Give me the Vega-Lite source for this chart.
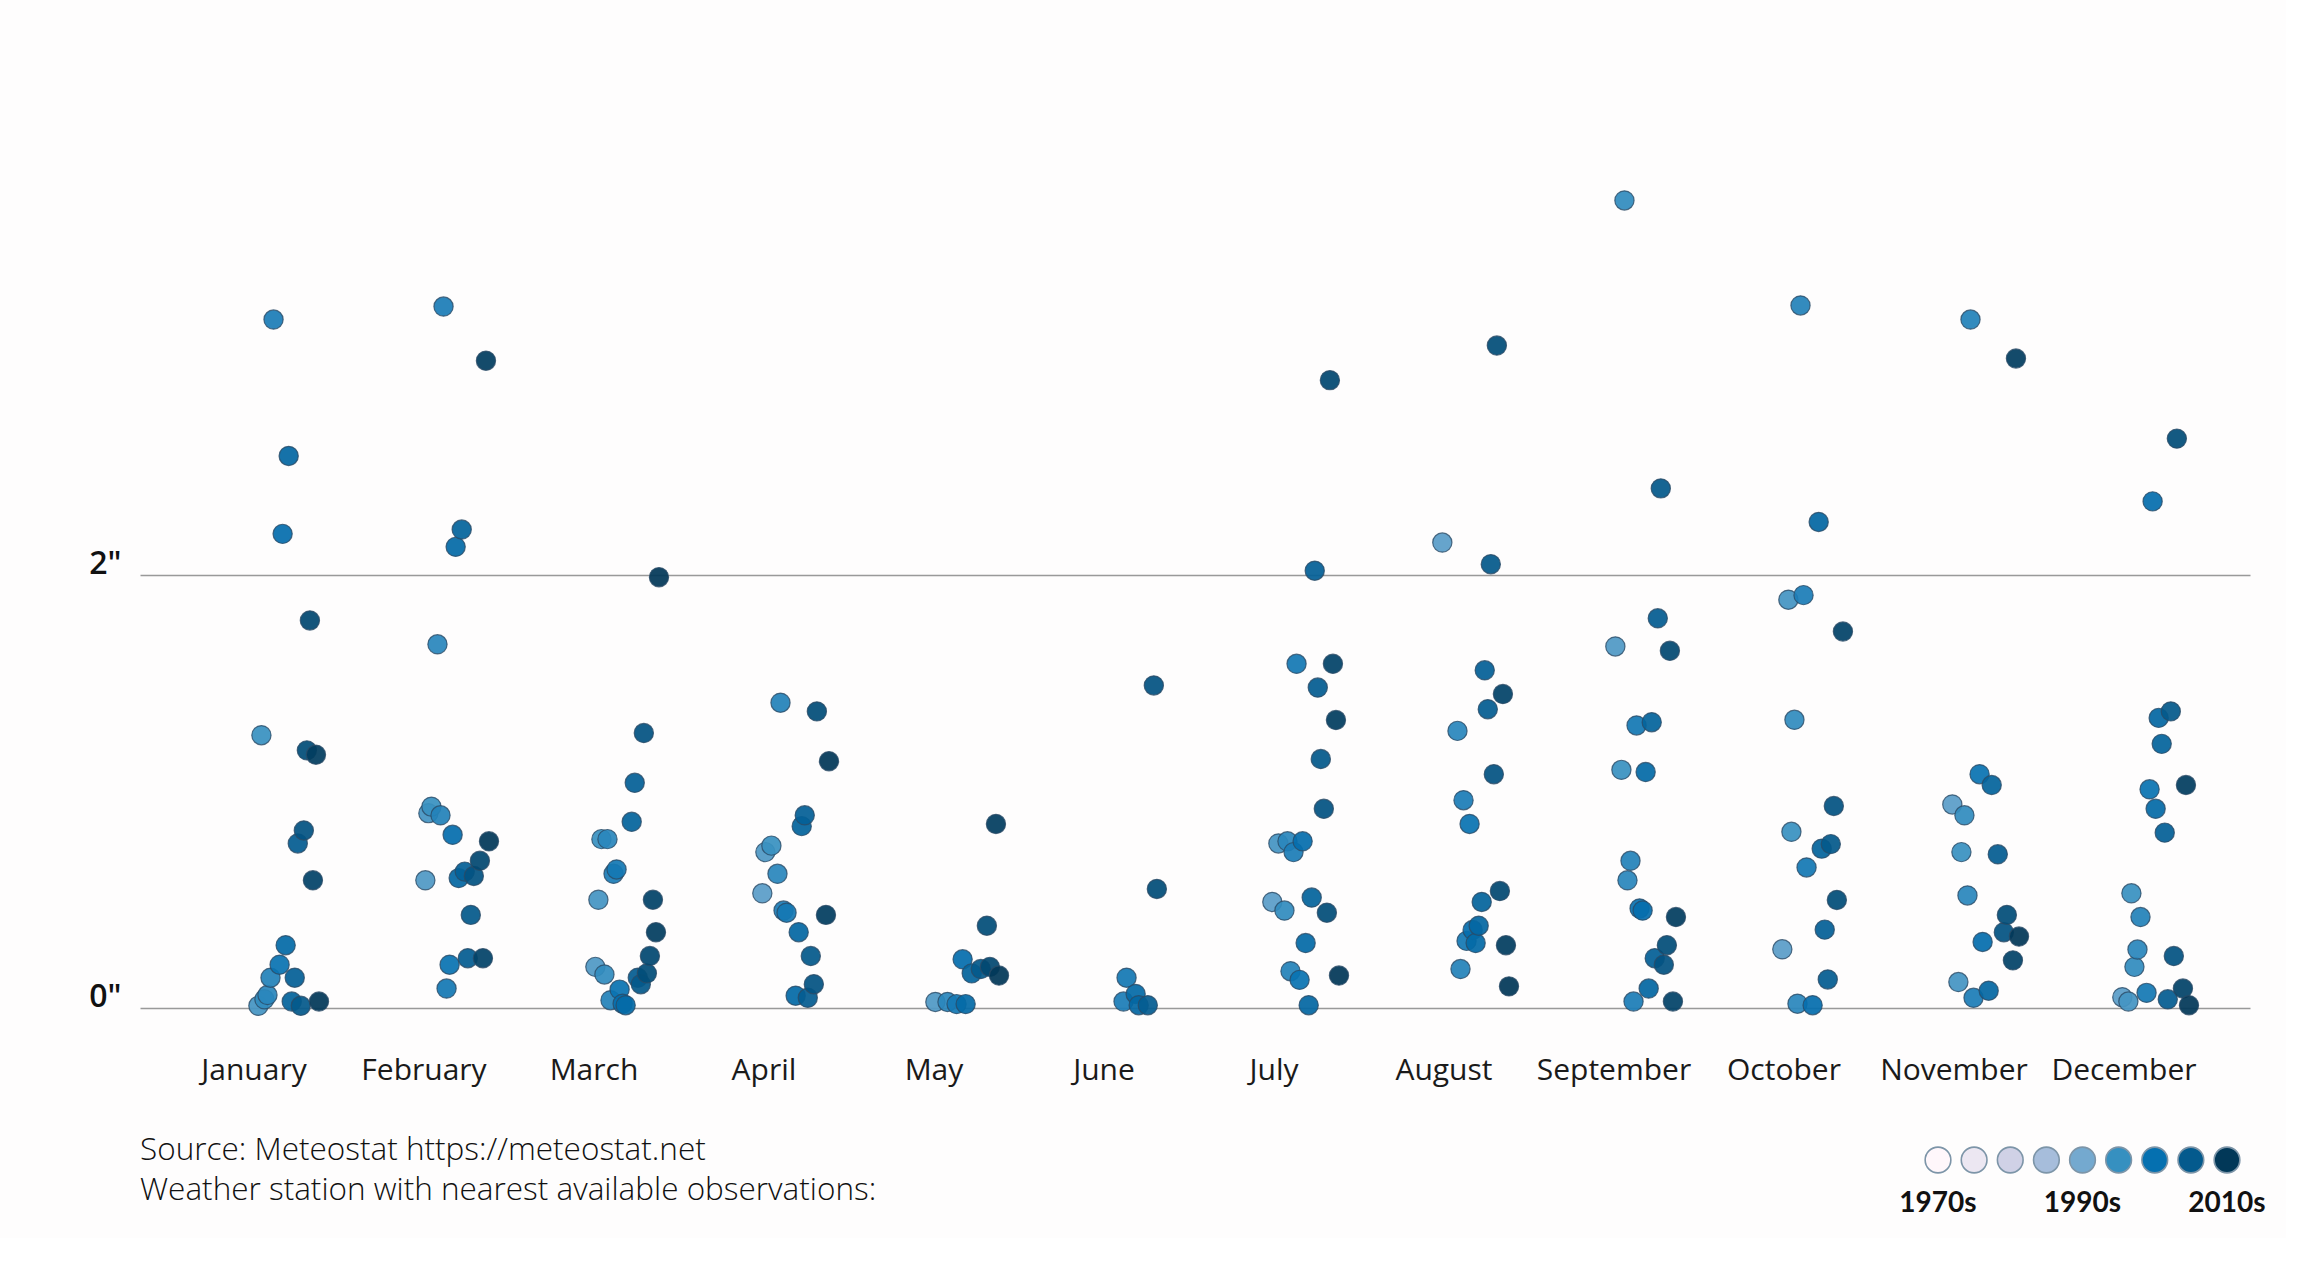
{
  "$schema": "https://vega.github.io/schema/vega-lite/v6.json",
  "background": "#fefdfd",
  "padding": {"left": 88, "top": 142, "right": 20, "bottom": 20},
  "bounds": "flush",
  "spacing": 132,
  "config": {"view": {"stroke": null}, "font": "Open Sans"},
  "vconcat": [
    {
      "width": 2110,
      "height": 866,
      "data": {"values": [
        {"month":"January","year":2005,"precip":3.18},{"month":"January","year":2010,"precip":2.55},{"month":"January","year":2008,"precip":2.19},{"month":"January","year":2017,"precip":1.79},{"month":"January","year":2001,"precip":1.26},{"month":"January","year":2016,"precip":1.19},{"month":"January","year":2019,"precip":1.17},{"month":"January","year":2015,"precip":0.82},{"month":"January","year":2013,"precip":0.76},{"month":"January","year":2018,"precip":0.59},{"month":"January","year":2009,"precip":0.29},{"month":"January","year":2007,"precip":0.2},{"month":"January","year":2004,"precip":0.14},{"month":"January","year":2012,"precip":0.14},{"month":"January","year":2003,"precip":0.06},{"month":"January","year":2002,"precip":0.04},{"month":"January","year":2000,"precip":0.01},{"month":"January","year":2011,"precip":0.03},{"month":"January","year":2014,"precip":0.01},{"month":"January","year":2020,"precip":0.03},
        {"month":"February","year":2005,"precip":3.24},{"month":"February","year":2019,"precip":2.99},{"month":"February","year":2011,"precip":2.21},{"month":"February","year":2009,"precip":2.13},{"month":"February","year":2003,"precip":1.68},{"month":"February","year":2000,"precip":0.9},{"month":"February","year":2001,"precip":0.93},{"month":"February","year":2004,"precip":0.89},{"month":"February","year":2008,"precip":0.8},{"month":"February","year":2020,"precip":0.77},{"month":"February","year":2017,"precip":0.68},{"month":"February","year":1999,"precip":0.59},{"month":"February","year":2010,"precip":0.6},{"month":"February","year":2012,"precip":0.63},{"month":"February","year":2015,"precip":0.61},{"month":"February","year":2014,"precip":0.43},{"month":"February","year":2007,"precip":0.2},{"month":"February","year":2013,"precip":0.23},{"month":"February","year":2018,"precip":0.23},{"month":"February","year":2006,"precip":0.09},
        {"month":"March","year":2020,"precip":1.99},{"month":"March","year":2015,"precip":1.27},{"month":"March","year":2012,"precip":1.04},{"month":"March","year":2011,"precip":0.86},{"month":"March","year":2001,"precip":0.78},{"month":"March","year":2003,"precip":0.78},{"month":"March","year":2005,"precip":0.62},{"month":"March","year":2006,"precip":0.64},{"month":"March","year":2000,"precip":0.5},{"month":"March","year":2018,"precip":0.5},{"month":"March","year":2019,"precip":0.35},{"month":"March","year":2017,"precip":0.24},{"month":"March","year":1999,"precip":0.19},{"month":"March","year":2002,"precip":0.155},{"month":"March","year":2013,"precip":0.14},{"month":"March","year":2016,"precip":0.16},{"month":"March","year":2014,"precip":0.11},{"month":"March","year":2007,"precip":0.085},{"month":"March","year":2004,"precip":0.036},{"month":"March","year":2008,"precip":0.02},{"month":"March","year":2009,"precip":0.013},
        {"month":"April","year":2004,"precip":1.41},{"month":"April","year":2016,"precip":1.37},{"month":"April","year":2020,"precip":1.14},{"month":"April","year":2012,"precip":0.89},{"month":"April","year":2011,"precip":0.84},{"month":"April","year":1999,"precip":0.72},{"month":"April","year":2001,"precip":0.75},{"month":"April","year":2003,"precip":0.62},{"month":"April","year":1998,"precip":0.53},{"month":"April","year":2005,"precip":0.45},{"month":"April","year":2006,"precip":0.44},{"month":"April","year":2019,"precip":0.43},{"month":"April","year":2010,"precip":0.35},{"month":"April","year":2014,"precip":0.24},{"month":"April","year":2015,"precip":0.11},{"month":"April","year":2009,"precip":0.057},{"month":"April","year":2013,"precip":0.047},
        {"month":"May","year":2019,"precip":0.85},{"month":"May","year":2016,"precip":0.38},{"month":"May","year":2008,"precip":0.225},{"month":"May","year":2011,"precip":0.16},{"month":"May","year":2014,"precip":0.18},{"month":"May","year":2017,"precip":0.19},{"month":"May","year":2020,"precip":0.15},{"month":"May","year":1999,"precip":0.028},{"month":"May","year":2003,"precip":0.028},{"month":"May","year":2006,"precip":0.018},{"month":"May","year":2009,"precip":0.018},
        {"month":"June","year":2015,"precip":1.49},{"month":"June","year":2016,"precip":0.55},{"month":"June","year":2006,"precip":0.14},{"month":"June","year":2005,"precip":0.03},{"month":"June","year":2009,"precip":0.065},{"month":"June","year":2010,"precip":0.013},{"month":"June","year":2013,"precip":0.013},
        {"month":"July","year":2017,"precip":2.9},{"month":"July","year":2012,"precip":2.02},{"month":"July","year":2006,"precip":1.59},{"month":"July","year":2018,"precip":1.59},{"month":"July","year":2013,"precip":1.48},{"month":"July","year":2019,"precip":1.33},{"month":"July","year":2014,"precip":1.15},{"month":"July","year":2015,"precip":0.92},{"month":"July","year":2000,"precip":0.76},{"month":"July","year":2003,"precip":0.77},{"month":"July","year":2005,"precip":0.72},{"month":"July","year":2008,"precip":0.77},{"month":"July","year":1998,"precip":0.49},{"month":"July","year":2002,"precip":0.45},{"month":"July","year":2011,"precip":0.51},{"month":"July","year":2016,"precip":0.44},{"month":"July","year":2009,"precip":0.3},{"month":"July","year":2004,"precip":0.17},{"month":"July","year":2007,"precip":0.13},{"month":"July","year":2020,"precip":0.15},{"month":"July","year":2010,"precip":0.013},
        {"month":"August","year":2016,"precip":3.06},{"month":"August","year":1998,"precip":2.15},{"month":"August","year":2014,"precip":2.05},{"month":"August","year":2012,"precip":1.56},{"month":"August","year":2018,"precip":1.45},{"month":"August","year":2013,"precip":1.38},{"month":"August","year":2003,"precip":1.28},{"month":"August","year":2015,"precip":1.08},{"month":"August","year":2005,"precip":0.96},{"month":"August","year":2007,"precip":0.85},{"month":"August","year":2017,"precip":0.54},{"month":"August","year":2011,"precip":0.49},{"month":"August","year":2010,"precip":0.38},{"month":"August","year":2008,"precip":0.36},{"month":"August","year":2006,"precip":0.31},{"month":"August","year":2009,"precip":0.3},{"month":"August","year":2019,"precip":0.29},{"month":"August","year":2004,"precip":0.18},{"month":"August","year":2020,"precip":0.1},
        {"month":"September","year":2002,"precip":3.73},{"month":"September","year":2014,"precip":2.4},{"month":"September","year":2013,"precip":1.8},{"month":"September","year":1999,"precip":1.67},{"month":"September","year":2017,"precip":1.65},{"month":"September","year":2006,"precip":1.305},{"month":"September","year":2011,"precip":1.32},{"month":"September","year":2001,"precip":1.1},{"month":"September","year":2009,"precip":1.09},{"month":"September","year":2004,"precip":0.68},{"month":"September","year":2003,"precip":0.59},{"month":"September","year":2007,"precip":0.46},{"month":"September","year":2008,"precip":0.45},{"month":"September","year":2019,"precip":0.42},{"month":"September","year":2016,"precip":0.29},{"month":"September","year":2012,"precip":0.23},{"month":"September","year":2015,"precip":0.2},{"month":"September","year":2010,"precip":0.09},{"month":"September","year":2005,"precip":0.03},{"month":"September","year":2018,"precip":0.03},
        {"month":"October","year":2004,"precip":3.245},{"month":"October","year":2010,"precip":2.245},{"month":"October","year":2000,"precip":1.886},{"month":"October","year":2005,"precip":1.907},{"month":"October","year":2018,"precip":1.739},{"month":"October","year":2002,"precip":1.331},{"month":"October","year":2015,"precip":0.933},{"month":"October","year":2001,"precip":0.814},{"month":"October","year":2011,"precip":0.736},{"month":"October","year":2014,"precip":0.757},{"month":"October","year":2006,"precip":0.649},{"month":"October","year":2016,"precip":0.499},{"month":"October","year":2012,"precip":0.362},{"month":"October","year":1998,"precip":0.271},{"month":"October","year":2013,"precip":0.132},{"month":"October","year":2003,"precip":0.02},{"month":"October","year":2008,"precip":0.013},
        {"month":"November","year":2004,"precip":3.18},{"month":"November","year":2019,"precip":3.0},{"month":"November","year":2007,"precip":1.08},{"month":"November","year":2011,"precip":1.03},{"month":"November","year":1998,"precip":0.94},{"month":"November","year":2002,"precip":0.89},{"month":"November","year":2001,"precip":0.72},{"month":"November","year":2013,"precip":0.71},{"month":"November","year":2003,"precip":0.52},{"month":"November","year":2016,"precip":0.43},{"month":"November","year":2015,"precip":0.35},{"month":"November","year":2020,"precip":0.33},{"month":"November","year":2008,"precip":0.305},{"month":"November","year":2018,"precip":0.22},{"month":"November","year":2000,"precip":0.12},{"month":"November","year":2010,"precip":0.08},{"month":"November","year":2005,"precip":0.047},
        {"month":"December","year":2008,"precip":2.34},{"month":"December","year":2016,"precip":2.63},{"month":"December","year":2010,"precip":1.34},{"month":"December","year":2014,"precip":1.37},{"month":"December","year":2011,"precip":1.22},{"month":"December","year":2007,"precip":1.01},{"month":"December","year":2019,"precip":1.03},{"month":"December","year":2009,"precip":0.92},{"month":"December","year":2012,"precip":0.81},{"month":"December","year":2001,"precip":0.53},{"month":"December","year":2004,"precip":0.42},{"month":"December","year":2003,"precip":0.27},{"month":"December","year":2002,"precip":0.19},{"month":"December","year":2015,"precip":0.24},{"month":"December","year":1998,"precip":0.05},{"month":"December","year":2000,"precip":0.03},{"month":"December","year":2006,"precip":0.07},{"month":"December","year":2013,"precip":0.04},{"month":"December","year":2018,"precip":0.09},{"month":"December","year":2020,"precip":0.013}
      ]},
      "mark": {"type": "circle", "size": 370, "fillOpacity": 0.93, "stroke": "#2b4b66", "strokeWidth": 1.2, "strokeOpacity": 0.8},
      "encoding": {
        "x": {
          "field": "month", "type": "nominal",
          "sort": ["January","February","March","April","May","June","July","August","September","October","November","December"],
          "scale": {"paddingInner": 0, "paddingOuter": 0.2059, "align": 0.414},
          "axis": {"title": null, "domain": false, "ticks": false, "labelPadding": 47, "labelFontSize": 30, "labelFont": "Open Sans", "labelColor": "#1a1a1a", "labelAngle": 0}
        },
        "xOffset": {"field": "year", "type": "quantitative", "scale": {"domain": [1970, 2020], "range": [-1.5, 150]}},
        "y": {
          "field": "precip", "type": "quantitative",
          "scale": {"domain": [0, 4]},
          "axis": {"values": [0, 2], "title": null, "domain": false, "ticks": false, "grid": true, "gridColor": "#999999", "gridWidth": 1.3, "labelExpr": "datum.value + '\"'", "labelBaseline": "alphabetic", "labelOffset": -2, "labelPadding": 19, "labelFontSize": 32, "labelFont": "Open Sans", "labelFontWeight": 600, "labelColor": "#111111"}
        },
        "color": {"field": "year", "type": "quantitative", "scale": {"domain": [1970, 1976.25, 1982.5, 1988.75, 1995, 2001.25, 2007.5, 2013.75, 2020], "range": ["#fff7fb", "#ece7f2", "#d0d1e6", "#a6bddb", "#74a9cf", "#3690c0", "#0570b0", "#045a8d", "#023858"]}, "legend": null},
        "order": {"field": "year", "type": "quantitative"}
      }
    },
    {
      "width": 2110,
      "height": 40,
      "resolve": {"scale": {"x": "independent"}},
      "layer": [
        {
          "data": {"values": [{"text": "Source: Meteostat https://meteostat.net\nWeather station with nearest available observations:"}]},
          "mark": {"type": "text", "align": "left", "baseline": "alphabetic", "lineBreak": "\n", "lineHeight": 40, "fontSize": 31.5, "font": "Open Sans", "fontWeight": 300, "color": "#111111"},
          "encoding": {
            "x": {"datum": 0, "type": "quantitative", "scale": {"domain": [0, 1]}, "axis": null},
            "text": {"field": "text"}
          }
        },
        {
          "data": {"values": [
            {"year": 1970, "label": "1970s"},{"year": 1976.25, "label": ""},{"year": 1982.5, "label": ""},{"year": 1988.75, "label": ""},{"year": 1995, "label": "1990s"},{"year": 2001.25, "label": ""},{"year": 2007.5, "label": ""},{"year": 2013.75, "label": ""},{"year": 2020, "label": "2010s"}
          ]},
          "mark": {"type": "circle", "size": 660, "opacity": 1, "stroke": "#7d95a8", "strokeWidth": 1.6},
          "encoding": {
            "x": {"field": "year", "type": "ordinal", "axis": null, "scale": {"type": "point", "padding": 0, "range": [1798, 2087]}},
            "color": {"field": "year", "type": "quantitative", "scale": {"domain": [1970, 1976.25, 1982.5, 1988.75, 1995, 2001.25, 2007.5, 2013.75, 2020], "range": ["#fff7fb", "#ece7f2", "#d0d1e6", "#a6bddb", "#74a9cf", "#3690c0", "#0570b0", "#045a8d", "#023858"]}, "legend": null}
          }
        },
        {
          "data": {"values": [
            {"year": 1970, "label": "1970s"},{"year": 1976.25, "label": ""},{"year": 1982.5, "label": ""},{"year": 1988.75, "label": ""},{"year": 1995, "label": "1990s"},{"year": 2001.25, "label": ""},{"year": 2007.5, "label": ""},{"year": 2013.75, "label": ""},{"year": 2020, "label": "2010s"}
          ]},
          "mark": {"type": "text", "dy": 52, "baseline": "alphabetic", "fontSize": 28, "fontWeight": "bold", "font": "Lato", "color": "#111111"},
          "encoding": {
            "x": {"field": "year", "type": "ordinal", "axis": null, "scale": {"type": "point", "padding": 0, "range": [1798, 2087]}},
            "text": {"field": "label"}
          }
        }
      ]
    }
  ]
}
